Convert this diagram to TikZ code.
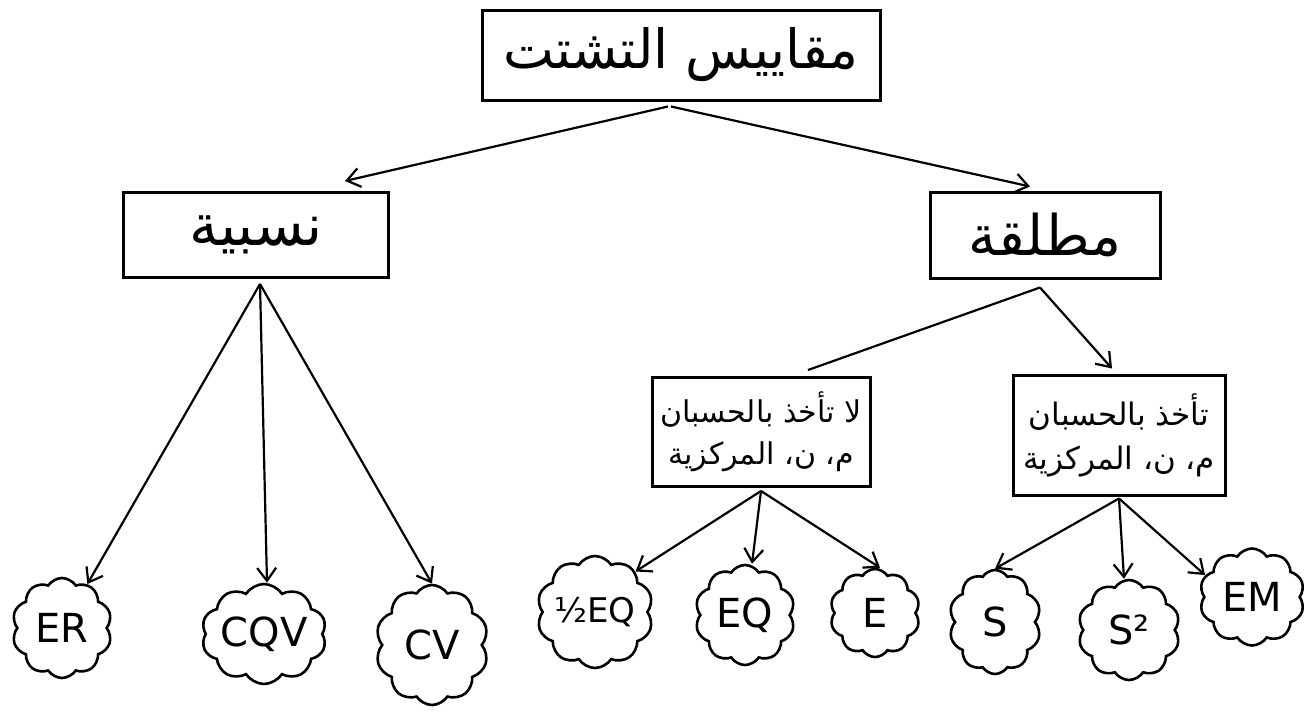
\documentclass[tikz,border=0pt]{standalone}
\usepackage{fontspec}
\setmainfont{DejaVu Sans}
\newfontfamily\arabicfont[Script=Arabic]{DejaVu Sans}
\TeXXeTstate=1
\usetikzlibrary{shapes.symbols,arrows.meta}
\begin{document}
\begin{tikzpicture}[x=1pt,y=-1pt,
  box/.style={draw, line width=3pt, inner sep=0pt, align=center, font=\arabicfont},
  leaf/.style={cloud, draw, line width=2.6pt, cloud puffs=10, cloud puff arc=115, cloud ignores aspect, inner sep=0pt, font=\fontsize{40}{44}\selectfont},
  arr/.style={-{Straight Barb[length=13pt,width=19pt,line width=2.2pt]}, line width=2.2pt},
  link/.style={line width=2.2pt}]
\useasboundingbox (0,0) rectangle (1308,720);
% boxes
\node[box, minimum width=398pt, minimum height=90pt, font=\arabicfont\fontsize{54}{58}\selectfont] (top) at (681,55) {\beginR مقاييس التشتت\endR};
\node[box, minimum width=265pt, minimum height=85pt, font=\arabicfont\fontsize{58}{62}\selectfont] (lbox) at (256,235) {\beginR نسبية\endR};
\node[box, minimum width=230pt, minimum height=86pt, font=\arabicfont\fontsize{56}{60}\selectfont] (rbox) at (1045,235) {\beginR مطلقة\endR};
\node[box, minimum width=218pt, minimum height=109pt, font=\arabicfont\fontsize{30}{42}\selectfont] (ml) at (761,432) {\beginR لا تأخذ بالحسبان\endR\\\beginR م، ن، المركزية\endR};
\node[box, minimum width=212pt, minimum height=120pt, font=\arabicfont\fontsize{31}{44}\selectfont] (mr) at (1119,435) {\beginR تأخذ بالحسبان\endR\\\beginR م، ن، المركزية\endR};
% clouds
\node[leaf, minimum width=100pt, minimum height=100pt] (er) at (62,628) {ER};
\node[leaf, minimum width=122pt, minimum height=100pt] (cqv) at (264,634) {CQV};
\node[leaf, minimum width=113pt, minimum height=120pt] (cv) at (432,645) {CV};
\node[leaf, minimum width=112pt, minimum height=112pt, font=\fontsize{34}{38}\selectfont] (half) at (595,612) {½EQ};
\node[leaf, minimum width=100pt, minimum height=100pt] (eq) at (745,615) {EQ};
\node[leaf, minimum width=90pt, minimum height=88pt] (e) at (875,613) {E};
\node[leaf, minimum width=92pt, minimum height=104pt] (s) at (995,622) {S};
\node[leaf, minimum width=102pt, minimum height=100pt] (s2) at (1129,630) {S²};
\node[leaf, minimum width=105pt, minimum height=97pt] (em) at (1252,597) {EM};
% connectors
\draw[arr] ([xshift=-13pt,yshift=-5pt]top.south) -- ([xshift=89pt,yshift=10pt]lbox.north);
\draw[arr] ([xshift=-10pt,yshift=-5pt]top.south) -- ([xshift=-15pt,yshift=4pt]rbox.north);
\draw[arr] ([xshift=4pt,yshift=-5pt]lbox.south) -- (er.60);
\draw[arr] ([xshift=4pt,yshift=-5pt]lbox.south) -- ([xshift=3pt]cqv.north);
\draw[arr] ([xshift=4pt,yshift=-5pt]lbox.south) -- (cv.north);
\draw[link] ([xshift=-5pt,yshift=-8pt]rbox.south) -- ([xshift=47pt,yshift=6pt]ml.north);
\draw[arr] ([xshift=-5pt,yshift=-8pt]rbox.south) -- ([xshift=-7pt,yshift=5pt]mr.north);
\draw[arr] ([yshift=-3pt]ml.south) -- (half.45);
\draw[arr] ([yshift=-3pt]ml.south) -- ([xshift=7pt]eq.north);
\draw[arr] ([yshift=-3pt]ml.south) -- ([xshift=5pt]e.north);
\draw[arr] ([yshift=-2pt]mr.south) -- (s.north);
\draw[arr] ([yshift=-2pt]mr.south) -- ([xshift=-5pt]s2.north);
\draw[arr] ([yshift=-2pt]mr.south) -- (em.155);
\end{tikzpicture}
\end{document}
